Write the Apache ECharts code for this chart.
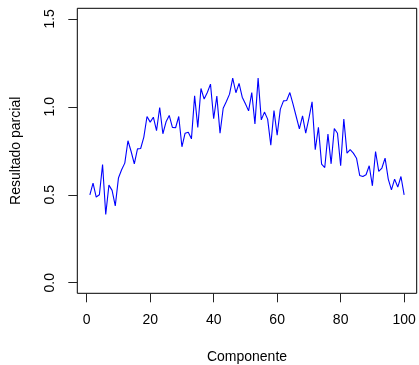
<!DOCTYPE html>
<html><head><meta charset="utf-8">
<script src="https://cdn.jsdelivr.net/npm/echarts@6/dist/echarts.min.js"></script>
<style>html,body{margin:0;padding:0;background:#fff}#c{width:419px;height:365px}</style>
</head><body><div id="c"></div>
<script>
var componentes = [];
for (var k = 1; k <= 100; k++) componentes.push(k);
var resultado = [
 0.500,0.566,0.487,0.500,0.672,0.388,0.555,0.525,0.437,0.595,
 0.642,0.680,0.807,0.746,0.676,0.761,0.763,0.828,0.945,0.913,
 0.941,0.864,0.996,0.847,0.915,0.951,0.883,0.881,0.945,0.773,
 0.850,0.856,0.818,1.062,0.883,1.104,1.044,1.081,1.129,0.932,
 1.061,0.850,0.992,1.030,1.072,1.163,1.080,1.133,1.055,1.017,
 0.977,1.081,0.903,1.163,0.926,0.970,0.930,0.782,0.979,0.839,
 0.987,1.034,1.036,1.081,1.015,0.945,0.875,0.949,0.850,0.934,
 1.028,0.756,0.884,0.674,0.655,0.845,0.676,0.877,0.850,0.665,
 0.930,0.737,0.756,0.737,0.708,0.610,0.604,0.614,0.665,0.551,
 0.746,0.633,0.652,0.708,0.589,0.528,0.589,0.544,0.604,0.500
];
var xTicks = [0,20,40,60,80,100];
var yTicks = [0,0.5,1.0,1.5];
var xTitle = 'Componente';
var yTitle = 'Resultado parcial';

var data = componentes.map(function(c,i){return [c, resultado[i]];});
var font = 'Liberation Sans, Arial, Helvetica, sans-serif';
var chart = echarts.init(document.getElementById('c'), null, {renderer:'canvas'});
chart.setOption({
  animation:false,
  grid:{left:77.3, top:8.3, right:2.3, bottom:71.7, show:true, borderColor:'#000', borderWidth:1,
    backgroundColor:'transparent', containLabel:false, outerBoundsMode:'none'},
  xAxis:{type:'value', min:-2.96, max:103.96,
    name:xTitle, nameLocation:'middle', nameGap:57,
    nameTextStyle:{fontFamily:font, fontSize:14, color:'#000'},
    axisLine:{show:false, onZero:false},
    axisTick:{show:true, length:9, lineStyle:{color:'#222'}, customValues:xTicks},
    axisLabel:{show:true, margin:20, fontFamily:font, fontSize:14, color:'#000', customValues:xTicks,
      formatter:function(v){return String(v);}},
    splitLine:{show:false}},
  yAxis:{type:'value', min:-0.06, max:1.56,
    name:yTitle, nameLocation:'middle', nameGap:54,
    nameTextStyle:{fontFamily:font, fontSize:14, color:'#000'},
    axisLine:{show:false, onZero:false},
    axisTick:{show:true, length:9, lineStyle:{color:'#222'}, customValues:yTicks},
    axisLabel:{show:true, margin:20, rotate:90, fontFamily:font, fontSize:14, color:'#000', customValues:yTicks,
      formatter:function(v){return v.toFixed(1);}},
    splitLine:{show:false}},
  series:[{type:'line', data:data, showSymbol:false, symbol:'none',
    lineStyle:{color:'#0000ff', width:1.1}, z:3}]
});
</script></body></html>
